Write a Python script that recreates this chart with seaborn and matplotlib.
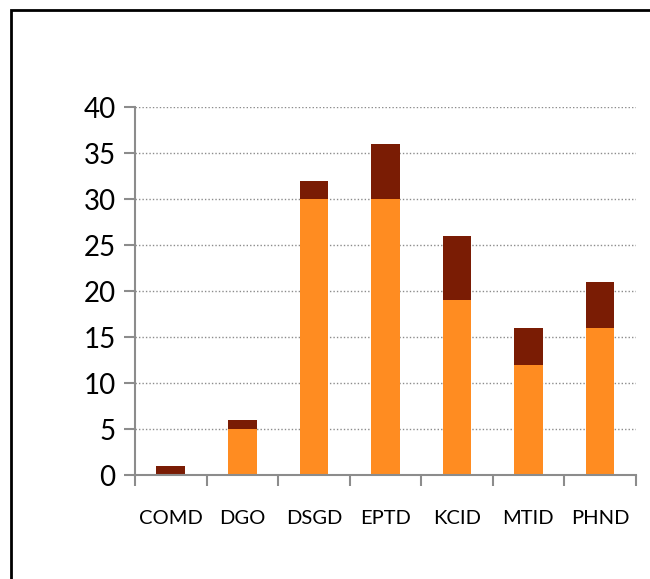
import matplotlib.pyplot as plt
import seaborn as sns
import numpy as np
from matplotlib.patches import Rectangle
from matplotlib.ticker import FixedLocator, MultipleLocator

# data
units = ['COMD', 'DGO', 'DSGD', 'EPTD', 'KCID', 'MTID', 'PHND']
lower = [0, 5, 30, 30, 19, 12, 16]
upper = [1, 1, 2, 6, 7, 4, 5]
totals = [a + b for a, b in zip(lower, upper)]

sns.set_style('white')
plt.rcParams['font.family'] = ['Lato', 'DejaVu Sans']

fig = plt.figure(figsize=(6.5, 5.79), dpi=100)
ax = fig.add_axes([0.2077, 0.1796, 0.7703, 0.6355])

orange = '#FF8C21'
dark = '#7A1C04'

# stacked bars: full total in dark, lower part in orange over it
sns.barplot(x=units, y=totals, color=dark, width=0.4, linewidth=0,
            saturation=1, ax=ax, zorder=3)
sns.barplot(x=units, y=lower, color=orange, width=0.4, linewidth=0,
            saturation=1, ax=ax, zorder=4)

ax.set_xlim(-0.5, len(units) - 0.5)
ax.set_ylim(0, 40)
ax.yaxis.set_major_locator(MultipleLocator(5))

ax.grid(axis='y', color='#8c8c8c', linestyle=(0, (1, 1.5)), linewidth=1, zorder=0)
ax.grid(axis='x', visible=False)

for s in ['top', 'right']:
    ax.spines[s].set_visible(False)
for s in ['left', 'bottom']:
    ax.spines[s].set_color('#8c8c8c')
    ax.spines[s].set_linewidth(1.5)
    ax.spines[s].set_zorder(5)

# x ticks at category boundaries, labels at centers
ax.xaxis.set_major_locator(FixedLocator(np.arange(-0.5, len(units), 1.0)))
ax.xaxis.set_minor_locator(FixedLocator(np.arange(len(units))))
ax.set_xticklabels([''] * (len(units) + 1))
ax.set_xticklabels(units, minor=True)
ax.tick_params(axis='x', which='major', direction='out', length=8, width=1.5,
               color='#8c8c8c', bottom=True)
ax.tick_params(axis='x', which='minor', length=0, pad=25, labelsize=14.5,
               labelcolor='black')
ax.tick_params(axis='y', direction='out', length=8, width=1.5, color='#8c8c8c',
               left=True, labelsize=20, labelcolor='black', pad=6)
ax.set_xlabel('')
ax.set_ylabel('')

# outer frame of the chart area
fig.patches.append(Rectangle((11 / 650, -0.2), 1.2, (579 - 10) / 579 + 0.2,
                             transform=fig.transFigure, fill=False,
                             edgecolor='black', linewidth=2))

fig.savefig('out.png', dpi=100)
